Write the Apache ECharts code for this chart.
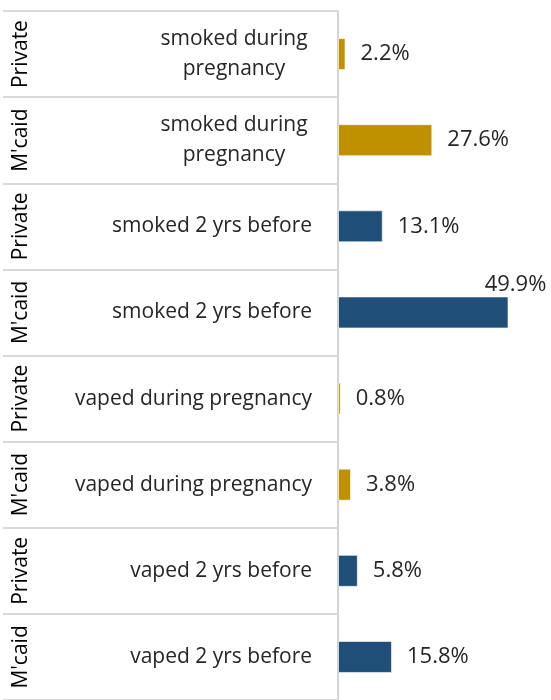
<!DOCTYPE html>
<html>
<head>
<meta charset="utf-8">
<script src="https://cdn.jsdelivr.net/npm/echarts@6/dist/echarts.min.js"></script>
<style>
    html, body { margin: 0; padding: 0; background: #fff; }
    #chart { width: 551px; height: 700px; }
</style>
</head>
<body>
<div id="chart"></div>
<script>
// payer groups (outer label) and measures (inner label), top to bottom
var groups = ["Private", "M'caid", "Private", "M'caid", "Private", "M'caid", "Private", "M'caid"];
var categories = [
    "smoked during\npregnancy",
    "smoked during\npregnancy",
    "smoked 2 yrs before",
    "smoked 2 yrs before",
    "vaped during pregnancy",
    "vaped during pregnancy",
    "vaped 2 yrs before",
    "vaped 2 yrs before"
];
var values = [2.2, 27.6, 13.1, 49.9, 0.8, 3.8, 5.8, 15.8];

var GOLD = "#bf9000";
var NAVY = "#1f4e79";
var FONT = "Open Sans";

var chart = echarts.init(document.getElementById("chart"));

var seriesData = values.map(function (v, i) {
    var item = {
        value: v,
        itemStyle: { color: categories[i].indexOf("during") >= 0 ? GOLD : NAVY }
    };
    // the longest bar has its label sitting above the bar end
    if (v > 45) {
        item.label = {
            position: ["100%", -1],
            align: "center",
            verticalAlign: "bottom",
            offset: [7, 0]
        };
    }
    return item;
});

var option = {
    animation: false,
    grid: {
        left: 338,
        right: 8,
        top: 11,
        bottom: -7
    },
    xAxis: {
        type: "value",
        min: 0,
        max: 60,
        show: false
    },
    yAxis: [
        {
            type: "category",
            inverse: true,
            data: categories,
            position: "left",
            axisLine: {
                show: true,
                lineStyle: { color: "#d4d4d4", width: 2 }
            },
            // long ticks make the row separators of the label table
            axisTick: {
                show: true,
                interval: 0,
                length: 335,
                lineStyle: { color: "#d9d9d9", width: 2 }
            },
            axisLabel: {
                interval: 0,
                margin: 26,
                color: "#262626",
                fontFamily: FONT,
                fontSize: 21,
                lineHeight: 30,
                formatter: function (val) {
                    if (val.indexOf("\n") >= 0) {
                        return val.split("\n").map(function (s) {
                            return "{c|" + s + "}";
                        }).join("\n");
                    }
                    return val;
                },
                rich: {
                    c: {
                        width: 156,
                        align: "center",
                        fontFamily: FONT,
                        fontSize: 21,
                        lineHeight: 30,
                        color: "#262626"
                    }
                }
            }
        },
        {
            type: "category",
            inverse: true,
            data: groups,
            position: "left",
            offset: 306,
            axisLine: { show: false },
            axisTick: { show: false },
            axisLabel: {
                interval: 0,
                hideOverlap: false,
                rotate: 90,
                margin: 0,
                color: "#000",
                fontFamily: FONT,
                fontSize: 21
            }
        }
    ],
    series: [
        {
            type: "bar",
            yAxisIndex: 0,
            barWidth: 32,
            data: seriesData,
            itemStyle: {
                borderColor: "rgba(255,255,255,0.6)",
                borderWidth: 1
            },
            label: {
                show: true,
                position: "right",
                distance: 15,
                color: "#262626",
                fontFamily: FONT,
                fontSize: 22,
                formatter: "{c}%"
            }
        }
    ]
};

chart.setOption(option);
</script>
</body>
</html>
